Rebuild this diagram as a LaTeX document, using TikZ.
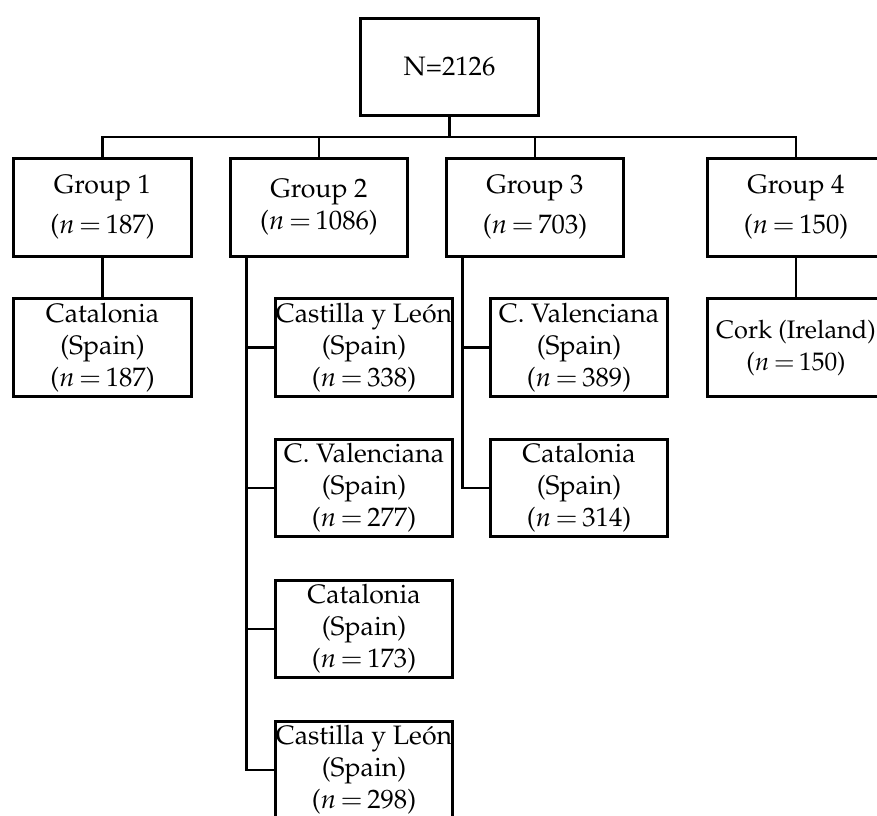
\documentclass[tikz,border=0pt]{standalone}
\usepackage[T1]{fontenc}
\usepackage{mathpazo}
\usepackage{amsmath}
\usepackage{tikz}

\newcommand{\nval}[1]{($n\mskip3mu{=}\mskip3mu#1$)}

\tikzset{
  box/.style={draw, line width=2.2pt, minimum width=133pt, minimum height=73pt,
    inner sep=0pt, align=center, font=\fontsize{20}{24}\selectfont},
  grp/.style={box, font=\fontsize{20}{30}\selectfont}
}

\begin{document}
\begin{tikzpicture}[x=0.75pt, y=-0.75pt, line width=2.2pt]
                \clip (0,0) rectangle (877,816);
                % top
                \node [box] (top) at (449.5,67) {N=2126};
                % groups
                \node [grp] (g1) at (102.5,207.5) {Group 1\\\nval{187}};
                \node [grp] (g2) at (319,207.5) {Group 2\\[-6pt]\nval{1086}};
                \node [grp] (g3) at (535,207.5) {Group 3\\\nval{703}};
                \node [grp] (g4) at (796,207.5) {Group 4\\\nval{150}};
                % regions
                \node [box] (c11) at (102.5,347.5) {Catalonia\\(Spain)\\\nval{187}};
                \node [box] (c21) at (364,347.5) {Castilla y Le\'on\\(Spain)\\\nval{338}};
                \node [box] (c22) at (364,488) {C. Valenciana\\(Spain)\\\nval{277}};
                \node [box] (c23) at (364,629) {Catalonia\\(Spain)\\\nval{173}};
                \node [box] (c24) at (364,770) {Castilla y Le\'on\\(Spain)\\\nval{298}};
                \node [box] (c31) at (579,347.5) {C. Valenciana\\(Spain)\\\nval{389}};
                \node [box] (c32) at (579,488) {Catalonia\\(Spain)\\\nval{314}};
                \node [box, font=\fontsize{19}{24}\selectfont] (c41) at (796,347.5) {Cork (Ireland)\\\nval{150}};
                % tree
                \coordinate (bus) at (449.5,137);
                \draw (top.south) -- (bus);
                \draw (g1.north) |- (bus) -| (g4.north);
                \draw (g2.north) -- (g2.north |- bus);
                \draw (g3.north) -- (g3.north |- bus);
                \draw (g1.south) -- (c11.north);
                \draw (g4.south) -- (c41.north);
                \coordinate (sp2) at ([xshift=13.5pt]g2.south west);
                \coordinate (sp3) at ([xshift=13.5pt]g3.south west);
                \draw (sp2) |- (c24.west);
                \foreach \c in {c21,c22,c23} \draw (sp2 |- \c.west) -- (\c.west);
                \draw (sp3) |- (c32.west);
                \draw (sp3 |- c31.west) -- (c31.west);
            \end{tikzpicture}
\end{document}
